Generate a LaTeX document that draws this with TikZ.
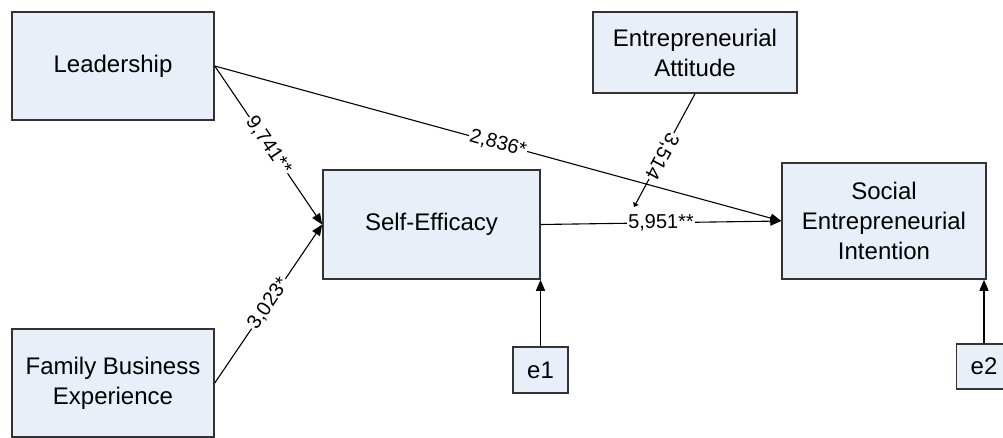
\documentclass[tikz,border=0pt]{standalone}
\usepackage{fontspec}
\setmainfont{Liberation Sans}
\usetikzlibrary{arrows.meta}
\definecolor{boxfill}{RGB}{232,239,248}

\begin{document}
\begin{tikzpicture}[x=1pt, y=-1pt, >={Triangle[length=11pt,width=9pt]},
  font=\fontsize{24}{30}\selectfont,
  latent/.style={draw=black!80, line width=1.5pt, fill=boxfill, align=center, inner sep=0pt},
  coef/.style={fill=white, inner sep=1pt, sloped, font=\fontsize{20}{20}\selectfont},
  path/.style={->, line width=1.1pt}]
\useasboundingbox (0,0) rectangle (1003,437);
% constructs
\node[latent, minimum width=202pt, minimum height=108pt] (lead) at (113,66) {Leadership};
\node[latent, minimum width=202pt, minimum height=108pt] (fbe) at (113,383) {Family Business\\Experience};
\node[latent, minimum width=217pt, minimum height=109pt] (se) at (431.5,224.5) {Self-Efficacy};
\node[latent, minimum width=204pt, minimum height=81pt] (att) at (695,52.5) {Entrepreneurial\\Attitude};
\node[latent, minimum width=204pt, minimum height=116pt] (sei) at (884,221) {Social\\Entrepreneurial\\Intention};
% error terms
\node[latent, minimum width=55pt, minimum height=46pt] (e1) at (540.5,370) {e1};
\node[latent, minimum width=55pt, minimum height=45pt] (e2) at (984,366.5) {e2};
% direct paths
\draw[path] (lead.east) -- node[coef] {9,741**} (se.west);
\draw[path] (fbe.east) -- node[coef] {3,023*} (se.west);
\draw[path] (lead.east) -- node[coef] {2,836*} (sei.west);
\draw[path] (se.east) -- node[coef] {5,951**} (sei.west);
% moderation onto the self-efficacy path
\coordinate (mod) at (634,207);
\draw[-{Triangle[length=4pt,width=6pt]}, line width=1.1pt] (att.south) -- node[coef, pos=0.55, allow upside down] {3,514} (mod);
% residuals
\draw[path] (e1.north) -- (e1.north |- se.south);
\draw[path] (e2.north) -- (e2.north |- sei.south);
\end{tikzpicture}
\end{document}
